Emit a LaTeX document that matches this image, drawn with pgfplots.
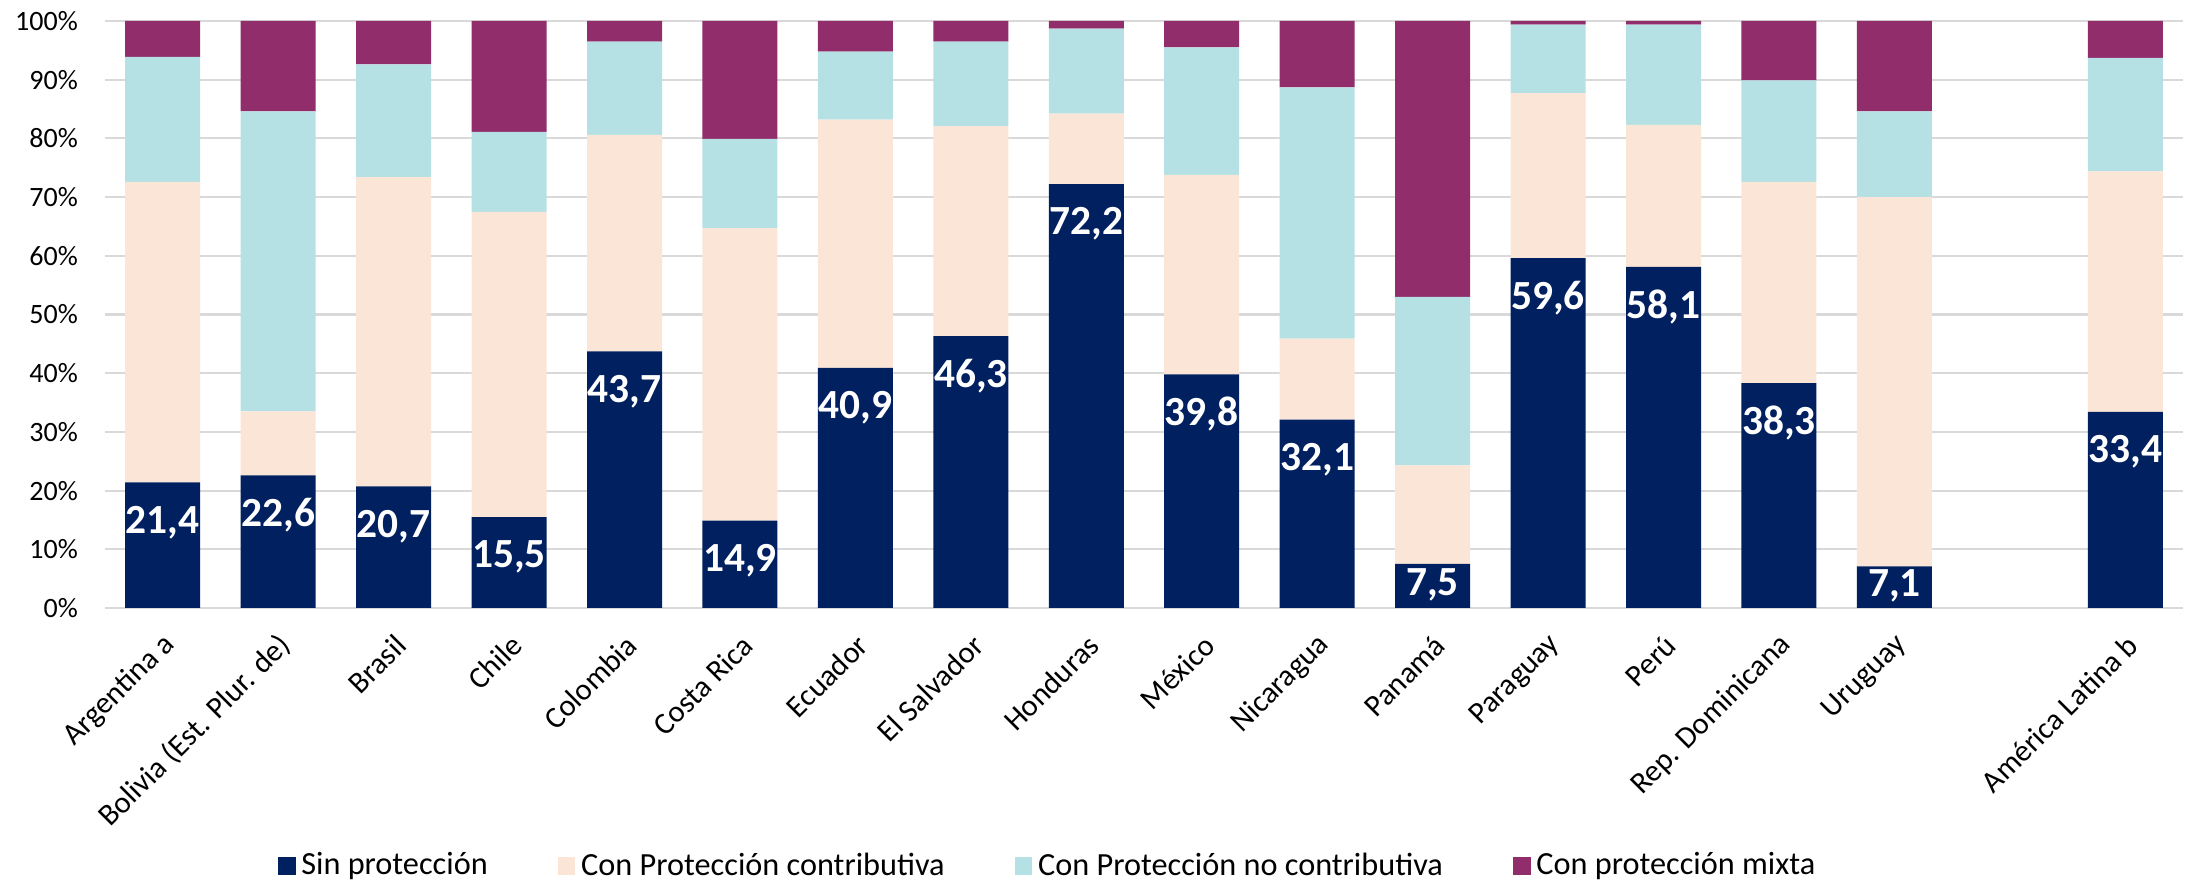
\documentclass[border=0pt]{standalone}
\usepackage{pgfplots}
\pgfplotsset{compat=1.18}
\usepackage{pgfplotstable}
\usepackage{fontspec}
\setmainfont{Carlito}
\definecolor{navy}{HTML}{002060}
\definecolor{beige}{HTML}{FBE5D6}
\definecolor{cyanl}{HTML}{B6E1E4}
\definecolor{plum}{HTML}{912D6B}
\definecolor{gridc}{HTML}{D9D9D9}

\pgfplotstableread{
x sin contr nocontr mixta
0  21.4 51.2 21.3 6.1
1  22.6 10.9 51.1 15.4
2  20.7 52.7 19.2 7.4
3  15.5 52.0 13.6 18.9
4  43.7 36.9 15.9 3.5
5  14.9 49.8 15.2 20.1
6  40.9 42.3 11.6 5.2
7  46.3 35.8 14.4 3.5
8  72.2 12.0 14.5 1.3
9  39.8 34.0 21.7 4.5
10 32.1 13.8 42.8 11.3
11 7.5  16.8 28.7 47.0
12 59.6 28.1 11.7 0.6
13 58.1 24.2 17.1 0.6
14 38.3 34.3 17.3 10.1
15 7.1  62.9 14.6 15.4
17 33.4 41.0 19.3 6.3
}\datatab

\pgfplotstableread{
x ly lab
0  14.6 21,4
1  15.8 22,6
2  13.9 20,7
3  8.7  15,5
4  36.9 43,7
5  8.1  14,9
6  34.1 40,9
7  39.5 46,3
8  65.4 72,2
9  33.0 39,8
10 25.3 32,1
11 4.0  7,5
12 52.8 59,6
13 51.3 58,1
14 31.5 38,3
15 3.8  7,1
17 26.6 33,4
}\labtab

\begin{document}
\begin{tikzpicture}
\begin{axis}[
  at={(36.75pt,94.85pt)}, anchor=south west,
  scale only axis, width=727.3pt, height=205.45pt,
  ybar stacked, bar width=26.25pt,
  xmin=-0.5, xmax=17.5, ymin=0, ymax=100,
  xtick={0,1,2,3,4,5,6,7,8,9,10,11,12,13,14,15,17},
  xticklabels={Argentina a,Bolivia (Est. Plur. de),Brasil,Chile,Colombia,Costa Rica,Ecuador,El Salvador,Honduras,México,Nicaragua,Panamá,Paraguay,Perú,Rep. Dominicana,Uruguay,América Latina b},
  ytick={0,10,20,30,40,50,60,70,80,90,100},
  yticklabels={0\%,10\%,20\%,30\%,40\%,50\%,60\%,70\%,80\%,90\%,100\%},
  major tick length=0pt,
  axis x line*=bottom, axis y line*=left,
  x axis line style={gridc, line width=0.75pt},
  y axis line style={draw=none},
  ymajorgrids, grid style={gridc, line width=0.75pt},
  yticklabel style={anchor=east, xshift=-6pt, font=\fontsize{9.8}{11}\selectfont},
  xticklabel style={yshift=-11.2pt, xshift=2.7pt, rotate=45, anchor=east, inner sep=0pt, font=\fontsize{10.7}{12}\selectfont},
  legend columns=4,
  legend image code/.code={\fill[#1] (0pt,-3.3pt) rectangle (6.2pt,3.3pt);},
  legend style={at={(0.4545,-0.4395)}, anchor=center, draw=none, fill=none,
    font=\fontsize{11.3}{13}\selectfont,
    /tikz/every even column/.append style={column sep=22.5pt}},
  legend cell align=left,
]
\addplot[fill=navy, draw=none] table[x=x, y=sin] {\datatab};
\addplot[fill=beige, draw=none] table[x=x, y=contr] {\datatab};
\addplot[fill=cyanl, draw=none] table[x=x, y=nocontr] {\datatab};
\addplot[fill=plum, draw=none] table[x=x, y=mixta] {\datatab};
\legend{Sin protección,Con Protección contributiva,Con Protección no contributiva,Con protección mixta}
\end{axis}
\begin{axis}[
  at={(36.75pt,94.85pt)}, anchor=south west,
  scale only axis, width=727.3pt, height=205.45pt,
  xmin=-0.5, xmax=17.5, ymin=0, ymax=100, hide axis,
]
\addplot[only marks, mark=none, point meta=explicit symbolic,
  nodes near coords,
  every node near coord/.append style={anchor=center, text=white, font=\bfseries\fontsize{14.5}{15}\selectfont}]
  table[x=x, y=ly, meta=lab] {\labtab};
\end{axis}
\pgfresetboundingbox
\path (0,0) rectangle (765.1pt,307.65pt);
\end{tikzpicture}
\end{document}
